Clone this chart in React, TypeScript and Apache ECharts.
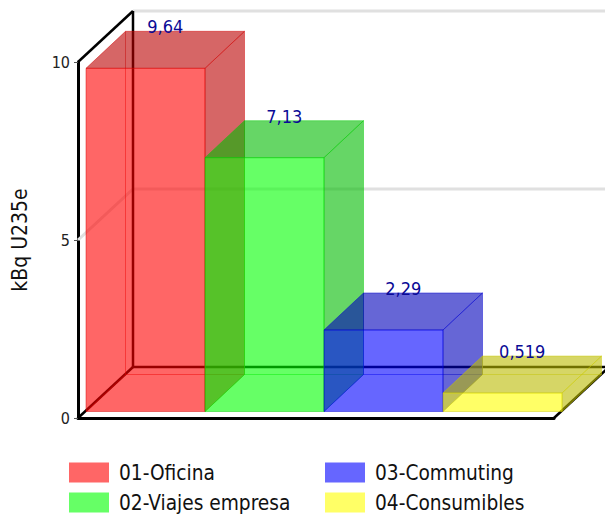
import React, { useEffect, useRef } from "react";
import * as echarts from "echarts";

const categories = ["01-Oficina", "02-Viajes empresa", "03-Commuting", "04-Consumibles"];
const values = [9.64, 7.13, 2.29, 0.519];
const frontColors = ["rgba(255,0,0,0.6)", "rgba(0,255,0,0.6)", "rgba(0,0,255,0.6)", "rgba(255,255,0,0.6)"];
const shadeColors = ["rgba(187,0,0,0.6)", "rgba(0,187,0,0.6)", "rgba(0,0,187,0.6)", "rgba(187,187,0,0.6)"];
const edgeColors = ["rgba(210,0,0,0.45)", "rgba(0,205,0,0.45)", "rgba(0,0,210,0.45)", "rgba(205,205,0,0.45)"];
const swatchColors = ["#ff6666", "#66ff66", "#6666ff", "#ffff66"];
const yTicks = [0, 5, 10];

const FONT = "'DejaVu Sans Condensed', 'DejaVu Sans', sans-serif";

// Screen offsets of the 3D box: the whole floor depth, and the near and far faces of a bar.
const WALL = { x: 55, y: -51 };
const NEAR = { x: 8, y: -6.5 };
const FAR = { x: 47.5, y: -43.5 };

function renderWalls(params: any, api: any) {
  const v = api.value(1);
  const [cx, y] = api.coord([0, v]);
  const band = api.size([1, 0])[0];
  const left = cx - band / 2;
  const right = left + band * categories.length;
  const line = (x1: number, y1: number, x2: number, y2: number, stroke: string, lineWidth: number) => ({
    type: "line",
    shape: { x1, y1, x2, y2 },
    style: { stroke, lineWidth },
  });
  const gray = "#e0e0e0";
  const children: any[] = [];
  const backX = left + WALL.x;
  const backY = y + WALL.y;
  if (v === 0) {
    const topY = api.coord([0, yTicks[yTicks.length - 1]])[1] + WALL.y;
    children.push(
      line(backX, topY, backX, backY, "#000", 2.5),
      line(left, y, backX, backY, "#000", 2.5),
      line(backX, backY, right + WALL.x, backY, "#000", 2.5),
      line(right, y, right + WALL.x, backY, "#000", 2.5),
    );
  } else {
    children.push(line(backX, backY, right + WALL.x, backY, gray, 3));
    const isTop = v === yTicks[yTicks.length - 1];
    children.push(line(left, y, backX, backY, isTop ? "#000" : gray, isTop ? 2.5 : 3));
  }
  return { type: "group", children };
}

function makeBarRenderer(i: number) {
  return (params: any, api: any) => {
    const [cx, topY] = api.coord([api.value(0), api.value(1)]);
    const baseY = api.coord([api.value(0), 0])[1];
    const band = api.size([1, 0])[0];
    const x0 = cx - band / 2 + NEAR.x;
    const x1 = cx + band / 2 + NEAR.x;
    const dx = FAR.x - NEAR.x;
    const dy = FAR.y - NEAR.y;
    const ty = topY + NEAR.y;
    const by = baseY + NEAR.y;
    const edge = { stroke: edgeColors[i], lineWidth: 1 };
    const face = (points: number[][], fill: string) => ({
      type: "polygon",
      shape: { points },
      style: { fill, ...edge },
    });
    return {
      type: "group",
      children: [
        {
          type: "polyline",
          shape: { points: [[x0 + dx, ty + dy], [x0 + dx, by + dy], [x1 + dx, by + dy]] },
          style: { fill: "none", ...edge },
        },
        {
          type: "line",
          shape: { x1: x0, y1: by, x2: x0 + dx, y2: by + dy },
          style: edge,
        },
        face([[x0, ty], [x1, ty], [x1 + dx, ty + dy], [x0 + dx, ty + dy]], shadeColors[i]),
        face([[x1, ty], [x1 + dx, ty + dy], [x1 + dx, by + dy], [x1, by]], shadeColors[i]),
        face([[x0, ty], [x1, ty], [x1, by], [x0, by]], frontColors[i]),
        {
          type: "text",
          x: cx + NEAR.x + dx / 2,
          y: ty + dy - 4.5,
          style: {
            text: String(api.value(1)).replace(".", ","),
            fill: "#0a0a96",
            font: `18px ${FONT}`,
            align: "center",
            verticalAlign: "middle",
          },
        },
      ],
    };
  };
}

export default function App() {
  const ref = useRef<HTMLDivElement>(null);

  useEffect(() => {
    document.body.style.margin = "0";
    const chart = echarts.init(ref.current!, null, { renderer: "svg" });
    const legendBase = {
      orient: "vertical",
      top: 462,
      padding: 0,
      itemWidth: 40,
      itemHeight: 20,
      itemGap: 9,
      icon: "rect",
      selectedMode: false,
      textStyle: { fontFamily: FONT, fontSize: 20.7, lineHeight: 20, color: "#111", padding: [0, 0, 0, 5] },
    };
    chart.setOption({
      animation: false,
      backgroundColor: "#fff",
      legend: [
        { ...legendBase, left: 69, data: categories.slice(0, 2) },
        { ...legendBase, left: 325, data: categories.slice(2, 4) },
      ],
      grid: { left: 78, top: 62, width: 476, height: 356, outerBoundsMode: "none" },
      xAxis: {
        type: "category",
        data: categories,
        axisLabel: { show: false },
        axisTick: { show: false },
        axisLine: { lineStyle: { color: "#000", width: 3 } },
      },
      yAxis: {
        type: "value",
        min: 0,
        max: 10,
        interval: 5,
        name: "kBq U235e",
        nameLocation: "middle",
        nameGap: 48,
        nameTextStyle: { fontFamily: FONT, fontSize: 21, color: "#111" },
        axisLabel: { fontFamily: FONT, fontSize: 16, color: "#222", margin: 8 },
        axisTick: { show: true, length: 4, lineStyle: { color: "#555", width: 1 } },
        axisLine: { show: true, lineStyle: { color: "#000", width: 3 } },
        splitLine: { show: false },
      },
      series: [
        {
          type: "custom",
          name: "walls",
          silent: true,
          data: yTicks.slice().reverse().map((t) => [0, t]),
          encode: { x: 0, y: 1 },
          renderItem: renderWalls,
        },
        ...categories.map((name, i) => ({
          type: "custom",
          name,
          itemStyle: { color: swatchColors[i] },
          data: [[i, values[i]]],
          encode: { x: 0, y: 1 },
          renderItem: makeBarRenderer(i),
        })),
      ],
    });
    return () => chart.dispose();
  }, []);

  return <div ref={ref} style={{ width: 605, height: 516 }} />;
}
